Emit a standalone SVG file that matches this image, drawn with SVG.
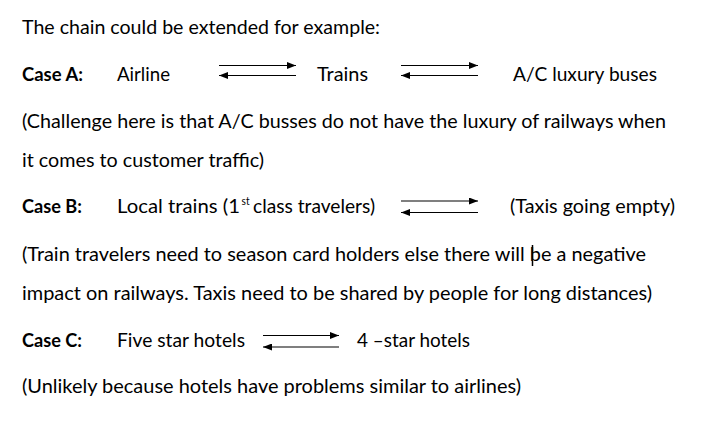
<svg xmlns="http://www.w3.org/2000/svg" width="713" height="431" viewBox="0 0 713 431">
  <style>
    text { font-family: Lato, "Liberation Sans", sans-serif; font-size: 19px; fill: #000; }
    .b { font-weight: bold; }
    .sup { font-size: 12px; }
    .arr { stroke: #000; stroke-width: 1.1; fill: none; marker-end: url(#head); }
  </style>
  <defs>
    <marker id="head" markerUnits="userSpaceOnUse" markerWidth="9" markerHeight="7" refX="9" refY="3.5" orient="auto">
      <path d="M0,0 L9,3.5 L0,7 Z" fill="#000"/>
    </marker>
  </defs>
  <rect width="713" height="431" fill="#fff"/>

  <g id="intro">
    <text x="22" y="34" textLength="358" lengthAdjust="spacingAndGlyphs">The chain could be extended for example:</text>
  </g>

  <g id="caseA">
    <text class="b" x="22" y="81" textLength="61" lengthAdjust="spacingAndGlyphs">Case A:</text>
    <text id="airline" x="117" y="81" textLength="53" lengthAdjust="spacingAndGlyphs">Airline</text>
    <text id="trains" x="317" y="81" textLength="51" lengthAdjust="spacingAndGlyphs">Trains</text>
    <text id="acbuses" x="513" y="81" textLength="144" lengthAdjust="spacingAndGlyphs">A/C luxury buses</text>
  </g>

  <g id="noteA">
    <text x="22" y="128" textLength="644" lengthAdjust="spacingAndGlyphs">(Challenge here is that A/C busses do not have the luxury of railways when</text>
    <text x="22" y="167" textLength="242" lengthAdjust="spacingAndGlyphs">it comes to customer traffic)</text>
  </g>

  <g id="caseB">
    <text class="b" x="22" y="213" textLength="60" lengthAdjust="spacingAndGlyphs">Case B:</text>
    <g id="localtrains">
      <text x="117" y="213" textLength="123" lengthAdjust="spacingAndGlyphs">Local trains (1</text>
      <text class="sup" x="241.5" y="205" textLength="8" lengthAdjust="spacingAndGlyphs">st</text>
      <text x="253" y="213" textLength="122" lengthAdjust="spacingAndGlyphs">class travelers)</text>
    </g>
    <text id="taxis" x="510" y="213" textLength="165" lengthAdjust="spacingAndGlyphs">(Taxis going empty)</text>
  </g>

  <g id="noteB">
    <text x="22" y="261" textLength="624" lengthAdjust="spacingAndGlyphs">(Train travelers need to season card holders else there will be a negative</text>
    <text x="22" y="300" textLength="630" lengthAdjust="spacingAndGlyphs">impact on railways. Taxis need to be shared by people for long distances)</text>
    <line x1="532.5" y1="245" x2="532.5" y2="266" stroke="#000" stroke-width="1.5"/>
  </g>

  <g id="caseC">
    <text class="b" x="22" y="347" textLength="60" lengthAdjust="spacingAndGlyphs">Case C:</text>
    <text id="fivestar" x="117" y="347" textLength="128" lengthAdjust="spacingAndGlyphs">Five star hotels</text>
    <text id="fourstar" x="357" y="347" textLength="113" lengthAdjust="spacingAndGlyphs">4 –star hotels</text>
  </g>

  <g id="noteC">
    <text x="22" y="393" textLength="499" lengthAdjust="spacingAndGlyphs">(Unlikely because hotels have problems similar to airlines)</text>
  </g>

  <g id="connectors">
    <line class="arr" x1="219" y1="65.5" x2="296" y2="65.5"/>
    <line class="arr" x1="296" y1="75.5" x2="219" y2="75.5"/>
    <line class="arr" x1="401" y1="65.5" x2="478" y2="65.5"/>
    <line class="arr" x1="478" y1="75.5" x2="401" y2="75.5"/>
    <line class="arr" x1="401" y1="201" x2="478" y2="201"/>
    <line class="arr" x1="478" y1="212.5" x2="401" y2="212.5"/>
    <line class="arr" x1="263" y1="335.5" x2="339" y2="335.5"/>
    <line class="arr" x1="339" y1="347" x2="263" y2="347"/>
  </g>
</svg>
